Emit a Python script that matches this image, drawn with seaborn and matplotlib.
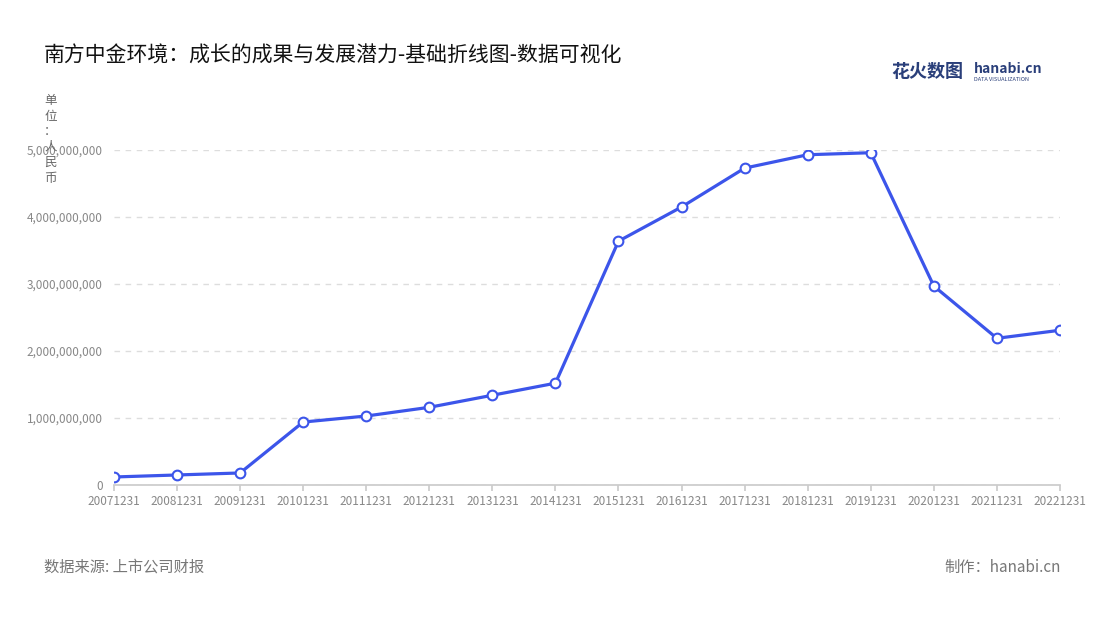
import matplotlib
matplotlib.use("Agg")
import matplotlib.pyplot as plt
import seaborn as sns
import pandas as pd
from matplotlib.ticker import FuncFormatter

years = ["20071231","20081231","20091231","20101231","20111231","20121231","20131231","20141231",
         "20151231","20161231","20171231","20181231","20191231","20201231","20211231","20221231"]
values = [0.12e9,0.15e9,0.18e9,0.94e9,1.03e9,1.16e9,1.34e9,1.52e9,
          3.64e9,4.15e9,4.73e9,4.93e9,4.96e9,2.97e9,2.19e9,2.31e9]

sns.set_theme(style="white")
plt.rcParams['font.family'] = ['Noto Sans CJK SC', 'DejaVu Sans']

df = pd.DataFrame({"x": range(len(years)), "v": values})
fig = plt.figure(figsize=(11, 6.2), dpi=100)
ax = fig.add_axes([0.1036, 0.2177, 0.86, 0.5403])
sns.lineplot(data=df, x="x", y="v", ax=ax, color="#3c55ea", linewidth=2.3,
             marker="o", markersize=7, markerfacecolor="white", markeredgecolor="#3c55ea",
             markeredgewidth=1.5, zorder=3)
ax.set_xlim(0, len(years) - 1)
ax.set_ylim(0, 5e9)
ax.set_xticks(range(len(years)))
ax.set_xticklabels(years, fontsize=8.5, color="#888888")
ax.set_yticks([0, 1e9, 2e9, 3e9, 4e9, 5e9])
ax.yaxis.set_major_formatter(FuncFormatter(lambda v, p: f"{int(v):,}"))
ax.tick_params(axis='y', labelsize=8.5, labelcolor="#888888", length=0, pad=8)
ax.tick_params(axis='x', length=4, color="#cccccc", bottom=True)
ax.yaxis.grid(True, linestyle=(0, (4, 4)), color="#dddddd", linewidth=1)
for s in ["top", "right", "left"]:
    ax.spines[s].set_visible(False)
ax.spines["bottom"].set_color("#cccccc")
ax.set_xlabel("")
ax.set_ylabel("")

fig.text(0.04, 0.91, "南方中金环境：成长的成果与发展潜力-基础折线图-数据可视化", fontsize=15, color="#111111", va="center")
fig.text(0.046, 0.848, "单\n位\n：\n人\n民\n币", fontsize=9, color="#666666", va="top", ha="center", linespacing=1.25)
fig.text(0.81, 0.885, "花火数图", fontsize=13, color="#2a3f7a", fontweight="bold", va="center")
fig.text(0.885, 0.888, "hanabi.cn", fontsize=10, color="#2a3f7a", fontweight="bold", va="center")
fig.text(0.885, 0.872, "DATA VISUALIZATION", fontsize=4, color="#2a3f7a", va="center")
fig.text(0.04, 0.085, "数据来源: 上市公司财报", fontsize=11, color="#777777", va="center")
fig.text(0.964, 0.085, "制作：hanabi.cn", fontsize=11, color="#777777", va="center", ha="right")
fig.savefig("out.png", dpi=100)
